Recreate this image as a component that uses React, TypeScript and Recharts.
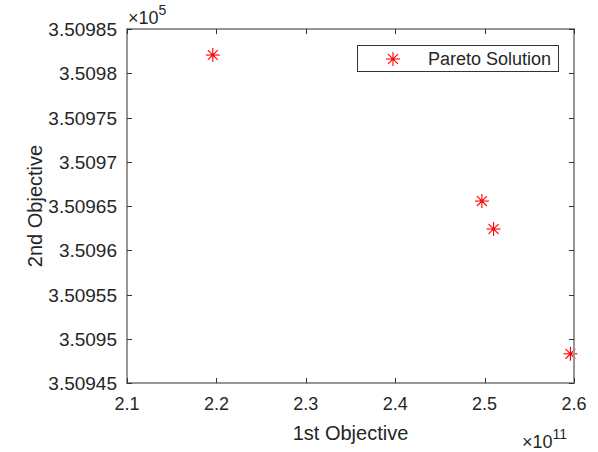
import React from 'react';
import { ScatterChart, Scatter, XAxis, YAxis } from 'recharts';

// 1st objective in units of 1e11, 2nd objective in units of 1e5
const firstObjective = [2.196, 2.497, 2.51, 2.596];
const secondObjective = [3.5098206, 3.5096556, 3.509624, 3.509483];
const seriesName = 'Pareto Solution';

const xTicks = [2.1, 2.2, 2.3, 2.4, 2.5, 2.6];
const xTickLabels = ['2.1', '2.2', '2.3', '2.4', '2.5', '2.6'];
const yTicks = [3.50945, 3.5095, 3.50955, 3.5096, 3.50965, 3.5097, 3.50975, 3.5098, 3.50985];
const yTickLabels = ['3.50945', '3.5095', '3.50955', '3.5096', '3.50965', '3.5097', '3.50975', '3.5098', '3.50985'];

const data = firstObjective.map((x, i) => ({ x, y: secondObjective[i] }));

const FONT = 'Liberation Sans, Arial, sans-serif';
const TEXT = '#262626';
const AXIS = '#969696';
const TICK = '#333333';
const RED = '#ff0000';
const TL = 5;

// plot box (chart margins + axis sizes)
const PL = 127;
const PT = 29;
const PR = 574;
const PB = 383;

const Star = (props: any) => {
  const { cx, cy } = props;
  const r = 7;
  const d = r * 0.7071;
  return (
    <g stroke={RED} strokeWidth={1.1}>
      <line x1={cx - r} y1={cy} x2={cx + r} y2={cy} />
      <line x1={cx} y1={cy - r} x2={cx} y2={cy + r} />
      <line x1={cx - d} y1={cy - d} x2={cx + d} y2={cy + d} />
      <line x1={cx - d} y1={cy + d} x2={cx + d} y2={cy - d} />
      <circle cx={cx} cy={cy} r={1.6} fill={RED} stroke="none" />
    </g>
  );
};

const fmtX = (v: number) => {
  const i = xTicks.findIndex((t) => Math.abs(t - v) < 1e-9);
  return i >= 0 ? xTickLabels[i] : String(v);
};
const fmtY = (v: number) => {
  const i = yTicks.findIndex((t) => Math.abs(t - v) < 1e-9);
  return i >= 0 ? yTickLabels[i] : String(v);
};

const BottomTick = (props: any) => {
  const { x, y, payload } = props;
  return (
    <text x={x} y={y + 27} textAnchor="middle" fill={TEXT} fontSize={18} fontFamily={FONT}>
      {fmtX(payload.value)}
    </text>
  );
};
const LeftTick = (props: any) => {
  const { x, y, payload } = props;
  return (
    <text x={x - 10} y={y + 7} textAnchor="end" fill={TEXT} fontSize={19} fontFamily={FONT}>
      {fmtY(payload.value)}
    </text>
  );
};

const xPix = (v: number) => PL + ((v - xTicks[0]) / (xTicks[xTicks.length - 1] - xTicks[0])) * (PR - PL);
const yPix = (v: number) => PB - ((v - yTicks[0]) / (yTicks[yTicks.length - 1] - yTicks[0])) * (PB - PT);

const Frame = () => (
  <svg width={598} height={452} style={{ position: 'absolute', left: 0, top: 0, pointerEvents: 'none' }}>
    {/* frame drawn as filled strips */}
    <rect x={PL - 1} y={PT - 1} width={PR - PL + 2} height={2} fill={AXIS} />
    <rect x={PL - 1} y={PB - 1} width={PR - PL + 2} height={2} fill={AXIS} />
    <rect x={PL - 1} y={PT - 1} width={2} height={PB - PT + 2} fill={AXIS} />
    <rect x={PR - 1} y={PT - 1} width={2} height={PB - PT + 2} fill={AXIS} />
    {xTicks.map((t) => {
      const x = Math.round(xPix(t));
      return (
        <g key={`x${t}`}>
          <rect x={x} y={PB - TL} width={1} height={TL} fill={TICK} />
          <rect x={x} y={PT} width={1} height={TL} fill={TICK} />
        </g>
      );
    })}
    {yTicks.map((t) => {
      const y = Math.round(yPix(t));
      return (
        <g key={`y${t}`}>
          <rect x={PL} y={y} width={TL} height={1} fill={TICK} />
          <rect x={PR - TL} y={y} width={TL} height={1} fill={TICK} />
        </g>
      );
    })}
    <rect x={357.5} y={45.5} width={201} height={26} fill="#fff" stroke="#333" strokeWidth={1} />
    <Star cx={393} cy={59} />
    <text x={428} y={65} fill={TEXT} fontFamily={FONT} fontSize={18}>
      {seriesName}
    </text>
    <text x={128} y={24} fill={TEXT} fontFamily={FONT} fontSize={18}>
      ×10
      <tspan dy={-9} fontSize={14}>5</tspan>
    </text>
    <text x={522} y={448} fill={TEXT} fontFamily={FONT} fontSize={18}>
      ×10
      <tspan dy={-9} fontSize={14}>11</tspan>
    </text>
  </svg>
);

export default function App() {
  return (
    <div style={{ position: 'absolute', left: 0, top: 0, width: 598, height: 452, background: '#fff' }}>
      <ScatterChart width={598} height={452} margin={{ top: PT, right: 598 - PR, bottom: 0, left: 0 }}>
        <XAxis
          type="number"
          dataKey="x"
          domain={[2.1, 2.6]}
          ticks={xTicks}
          height={452 - PB}
          tickSize={0}
          tickMargin={0}
          axisLine={false}
          tickLine={false}
          tick={BottomTick}
          label={{ value: '1st Objective', position: 'insideBottom', offset: 12, fill: TEXT, fontSize: 20, fontFamily: FONT }}
        />
        <YAxis
          type="number"
          dataKey="y"
          domain={[3.50945, 3.50985]}
          ticks={yTicks}
          width={PL}
          tickSize={0}
          tickMargin={0}
          axisLine={false}
          tickLine={false}
          tick={LeftTick}
          label={{
            value: '2nd Objective',
            angle: -90,
            position: 'insideLeft',
            offset: 35,
            fill: TEXT,
            fontSize: 20,
            fontFamily: FONT,
            style: { textAnchor: 'middle' },
          }}
        />
        <Scatter name={seriesName} data={data} fill={RED} shape={Star} isAnimationActive={false} />
      </ScatterChart>
      <Frame />
    </div>
  );
}
